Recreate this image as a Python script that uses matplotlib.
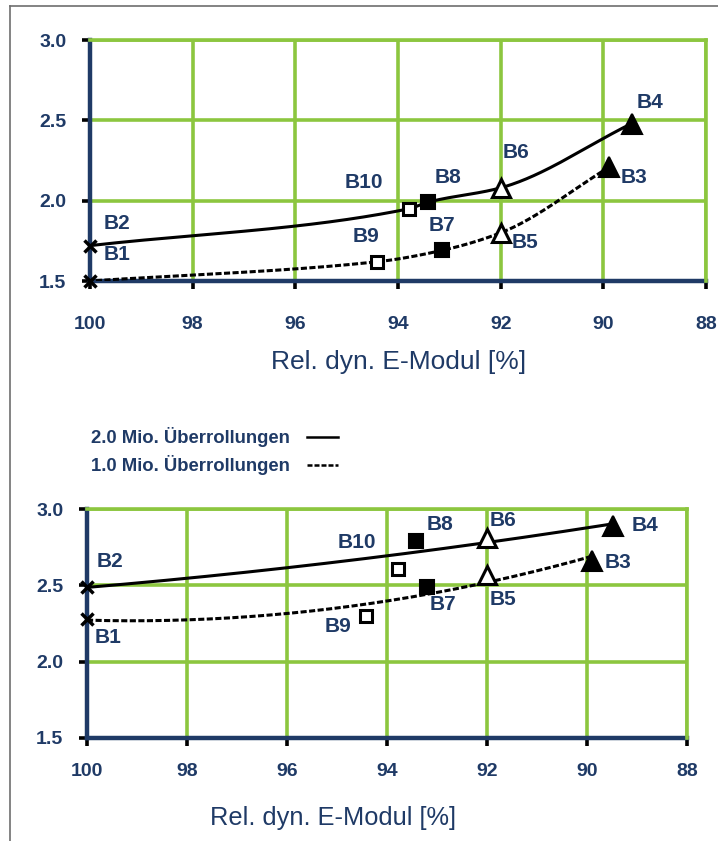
import numpy as np
import matplotlib
matplotlib.use("Agg")
import matplotlib.pyplot as plt
from matplotlib.lines import Line2D

plt.rcParams['font.family'] = ['Liberation Sans', 'DejaVu Sans']

NAVY = '#1f3a66'
GREEN = '#8cc63f'
FRAME = '#6e6e6e'

# ---- data: upper diagram -------------------------------------------------
top_labels_2m = ['B2', 'B10', 'B8', 'B6', 'B4']
top_x_2m = [100.0, 93.78, 93.42, 92.0, 89.45]
top_y_2m = [1.72, 1.95, 1.99, 2.08, 2.48]

top_labels_1m = ['B1', 'B9', 'B7', 'B5', 'B3']
top_x_1m = [100.0, 94.40, 93.15, 92.0, 89.88]
top_y_1m = [1.50, 1.62, 1.69, 1.80, 2.21]

# ---- data: lower diagram -------------------------------------------------
bot_labels_2m = ['B2', 'B10', 'B8', 'B6', 'B4']
bot_x_2m = [100.0, 93.78, 93.42, 92.0, 89.48]
bot_y_2m = [2.49, 2.61, 2.79, 2.81, 2.89]

bot_labels_1m = ['B1', 'B9', 'B7', 'B5', 'B3']
bot_x_1m = [100.0, 94.42, 93.20, 92.0, 89.90]
bot_y_1m = [2.28, 2.30, 2.49, 2.57, 2.66]

x_ticks = [100, 98, 96, 94, 92, 90, 88]
y_ticks = [1.5, 2.0, 2.5, 3.0]
x_label = 'Rel. dyn. E-Modul [%]'
legend_labels = ['2.0 Mio. Überrollungen', '1.0 Mio. Überrollungen']

# marker style per sample name
MARKERS = {
    'B1': dict(marker='x', ms=9, mfc='black', mec='black', mew=2.5),
    'B2': dict(marker='x', ms=9, mfc='black', mec='black', mew=2.5),
    'B3': dict(marker='^', ms=15, mfc='black', mec='black', mew=1.5),
    'B4': dict(marker='^', ms=15, mfc='black', mec='black', mew=1.5),
    'B5': dict(marker='^', ms=13, mfc='white', mec='black', mew=2.2),
    'B6': dict(marker='^', ms=13, mfc='white', mec='black', mew=2.2),
    'B7': dict(marker='s', ms=10, mfc='black', mec='black', mew=1.5),
    'B8': dict(marker='s', ms=10, mfc='black', mec='black', mew=1.5),
    'B9': dict(marker='s', ms=8, mfc='white', mec='black', mew=2.2),
    'B10': dict(marker='s', ms=8, mfc='white', mec='black', mew=2.2),
}

# label offsets in pixels (dx, dy)
TOP_OFFSETS = {'B1': (27, 26), 'B2': (27, 22), 'B3': (25, -11), 'B4': (18, 21),
               'B5': (24, -10), 'B6': (15, 35), 'B7': (0, 25), 'B8': (20, 25),
               'B9': (-11, 25), 'B10': (-45, 26)}
BOT_OFFSETS = {'B1': (21, -19), 'B2': (23, 25), 'B3': (26, -2), 'B4': (32, 0),
               'B5': (16, -25), 'B6': (16, 18), 'B7': (16, -18), 'B8': (24, 17),
               'B9': (-28, -11), 'B10': (-41, 26)}

DOTTED = (0, (2.0, 0.8))

W, H = 718, 841
fig = plt.figure(figsize=(W / 100, H / 100), dpi=100)


def px_box(left, top, right, bottom):
    return [left / W, 1 - bottom / H, (right - left) / W, (bottom - top) / H]


def smooth_through(xs, ys, n=300):
    """Monotone cubic (Fritsch-Carlson) curve through the points."""
    x = np.asarray(xs, float)[::-1]
    y = np.asarray(ys, float)[::-1]
    h = np.diff(x)
    d = np.diff(y) / h
    m = np.zeros_like(x)
    for i in range(1, len(x) - 1):
        if d[i - 1] * d[i] > 0:
            w1 = 2 * h[i] + h[i - 1]
            w2 = h[i] + 2 * h[i - 1]
            m[i] = (w1 + w2) / (w1 / d[i - 1] + w2 / d[i])
    m[0] = d[0]
    m[-1] = d[-1]
    xx = np.linspace(x[0], x[-1], n)
    k = np.clip(np.searchsorted(x, xx) - 1, 0, len(x) - 2)
    t = (xx - x[k]) / h[k]
    h00 = 2 * t**3 - 3 * t**2 + 1
    h10 = t**3 - 2 * t**2 + t
    h01 = -2 * t**3 + 3 * t**2
    h11 = t**3 - t**2
    yy = h00 * y[k] + h10 * h[k] * m[k] + h01 * y[k + 1] + h11 * h[k] * m[k + 1]
    return xx, yy


def fitted(xs, ys, deg=2):
    coef = np.polyfit(xs, ys, deg)
    xx = np.linspace(max(xs), min(xs), 200)
    return xx, np.polyval(coef, xx)


def draw_panel(ax, series, offsets, curve, tick_pad):
    ax.set_xlim(100, 88)
    ax.set_ylim(1.5, 3.0)
    ax.set_xticks(x_ticks)
    ax.set_yticks(y_ticks)
    ax.set_xticklabels([str(t) for t in x_ticks])
    ax.set_yticklabels([f'{t:.1f}' for t in y_ticks])
    ax.grid(True, color=GREEN, lw=2.6, zorder=0)
    ax.set_axisbelow(True)
    for s in ('top', 'right'):
        ax.spines[s].set_color(GREEN)
        ax.spines[s].set_linewidth(2.6)
    for s in ('left', 'bottom'):
        ax.spines[s].set_color(NAVY)
        ax.spines[s].set_linewidth(3.2)
        ax.spines[s].set_zorder(2)
    ax.tick_params(axis='both', colors='black', length=6, width=2.6,
                   labelcolor=NAVY, labelsize=14)
    ax.tick_params(axis='x', pad=tick_pad)
    ax.tick_params(axis='y', pad=11)
    for lab in ax.get_xticklabels() + ax.get_yticklabels():
        lab.set_fontweight('bold')

    for (names, xs, ys), ls in zip(series, ['-', DOTTED]):
        cx, cy = curve(xs, ys)
        ax.plot(cx, cy, color='black', lw=2.2, ls=ls, solid_capstyle='butt',
                zorder=3)
        for n, x, y in zip(names, xs, ys):
            ax.plot([x], [y], ls='none', zorder=4, clip_on=False, **MARKERS[n])
            dx, dy = offsets[n]
            ax.annotate(n, (x, y), xytext=(dx, dy), textcoords='offset pixels',
                        ha='center', va='center', fontsize=15,
                        fontweight='bold', color=NAVY, zorder=5)


ax1 = fig.add_axes(px_box(90, 40, 706, 281))
draw_panel(ax1,
           [(top_labels_2m, top_x_2m, top_y_2m),
            (top_labels_1m, top_x_1m, top_y_1m)],
           TOP_OFFSETS, smooth_through, tick_pad=19)

ax2 = fig.add_axes(px_box(87, 509, 687, 738))
draw_panel(ax2,
           [(bot_labels_2m, bot_x_2m, bot_y_2m),
            (bot_labels_1m, bot_x_1m, bot_y_1m)],
           BOT_OFFSETS, fitted, tick_pad=12)

# axis titles
fig.text(399 / W, 1 - 362 / H, x_label, ha='center', va='center',
         fontsize=19, color=NAVY)
fig.text(333 / W, 1 - 818 / H, x_label, ha='center', va='center',
         fontsize=18.3, color=NAVY)

# line-style key between the two diagrams
for i, (lab, ls) in enumerate(zip(legend_labels, ['-', DOTTED])):
    yy = 1 - (437 + 28 * i) / H
    fig.text(91 / W, yy, lab, ha='left', va='center', fontsize=13.3,
             fontweight='bold', color=NAVY)
    fig.add_artist(Line2D([307 / W, 338 / W], [yy, yy], color='black',
                          lw=1.8, ls=ls, transform=fig.transFigure))

# outer frame (top and left edge)
fig.add_artist(Line2D([10 / W, 1.0], [1 - 6 / H, 1 - 6 / H], color=FRAME,
                      lw=1.2, transform=fig.transFigure))
fig.add_artist(Line2D([10 / W, 10 / W], [0.0, 1 - 6 / H], color=FRAME,
                      lw=1.2, transform=fig.transFigure))

fig.savefig('out.png', dpi=100)
